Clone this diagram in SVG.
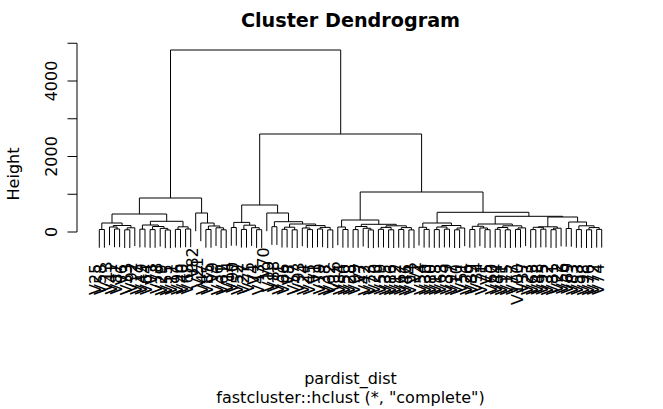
<svg xmlns="http://www.w3.org/2000/svg" width="663" height="409" viewBox="0 0 663 409">
<style>
text{font-family:"DejaVu Sans","Liberation Sans",sans-serif;fill:#000}
.lab{font-size:16px;text-anchor:end}
.ax{font-size:16px;text-anchor:middle}
.ln{fill:none;stroke:#000;stroke-width:1}
</style>
<rect width="663" height="409" fill="#fff"/>
<g id="title"><text x="350.5" y="27" font-size="19.2" font-weight="bold" text-anchor="middle">Cluster Dendrogram</text></g>
<g id="axis" class="ln">
<path d="M77 232V43.25M77 232H67.5M77 194.25H67.5M77 156.5H67.5M77 118.75H67.5M77 81H67.5M77 43.25H67.5"/>
</g>
<g id="axis-labels">
<text class="ax" transform="translate(57 232) rotate(-90)">0</text>
<text class="ax" transform="translate(57 156.5) rotate(-90)">2000</text>
<text class="ax" transform="translate(57 81) rotate(-90)">4000</text>
<text class="ax" transform="translate(18.5 174) rotate(-90)">Height</text>
</g>
<g id="xlab"><text class="ax" x="350.5" y="384">pardist_dist</text></g>
<g id="sub"><text class="ax" x="350.5" y="403">fastcluster::hclust (*, "complete")</text></g>
<g id="connectors" class="ln">
<path d="M99.3 247.7V229.5H104.4V247.7"/>
<path d="M114.5 247.2V229H119.6V247.2"/>
<path d="M109.5 245.2V227H117.1V229"/>
<path d="M124.7 248V229.8H129.8V248"/>
<path d="M127.2 229.8V227.8H134.8V246"/>
<path d="M113.3 227V225.5H131V227.8"/>
<path d="M101.8 229.5V223H122.1V225.5"/>
<path d="M139.9 247.4V229.2H145V247.4"/>
<path d="M150.1 247.8V229.6H155.1V247.8"/>
<path d="M165.3 248.2V230H170.4V248.2"/>
<path d="M160.2 246.6V228.4H167.8V230"/>
<path d="M152.6 229.6V226.5H164V228.4"/>
<path d="M142.4 229.2V225H158.3V226.5"/>
<path d="M175.4 247.6V229.4H180.5V247.6"/>
<path d="M185.6 247.2V229H190.7V247.2"/>
<path d="M178 229.4V226.8H188.1V229"/>
<path d="M150.4 225V221.3H183V226.8"/>
<path d="M112 223V214H166.7V221.3"/>
<path d="M205.9 247.7V229.5H211V247.7"/>
<path d="M221.1 248V229.8H226.2V248"/>
<path d="M216 246V227.8H223.6V229.8"/>
<path d="M208.4 229.5V226H219.8V227.8"/>
<path d="M200.8 241.2V223H214.1V226"/>
<path d="M195.7 231.2V213H207.5V223"/>
<path d="M139.4 214V198H201.6V213"/>
<path d="M231.3 245.7V227.5H236.3V245.7"/>
<path d="M241.4 247.6V229.4H246.5V247.6"/>
<path d="M256.6 247.9V229.7H261.7V247.9"/>
<path d="M251.6 245.9V227.7H259.2V229.7"/>
<path d="M243.9 229.4V225.2H255.4V227.7"/>
<path d="M233.8 227.5V222.4H249.7V225.2"/>
<path d="M271.9 244.9V226.7H276.9V244.9"/>
<path d="M282 247.5V229.3H287.1V247.5"/>
<path d="M292.2 248V229.8H297.2V248"/>
<path d="M284.5 229.3V227.2H294.7V229.8"/>
<path d="M307.4 247.8V229.6H312.5V247.8"/>
<path d="M302.3 246.2V228H309.9V229.6"/>
<path d="M317.5 247.2V229H322.6V247.2"/>
<path d="M327.7 248.1V229.9H332.8V248.1"/>
<path d="M320.1 229V227.4H330.2V229.9"/>
<path d="M306.1 228V225.6H325.1V227.4"/>
<path d="M289.6 227.2V224H315.6V225.6"/>
<path d="M274.4 226.7V221.7H302.6V224"/>
<path d="M266.8 231.2V213H288.5V221.7"/>
<path d="M241.7 222.4V205H277.6V213"/>
<path d="M342.9 247.7V229.5H348V247.7"/>
<path d="M337.8 245.2V227H345.4V229.5"/>
<path d="M353.1 247.8V229.6H358.1V247.8"/>
<path d="M368.3 248.1V229.9H373.4V248.1"/>
<path d="M363.2 246.5V228.3H370.8V229.9"/>
<path d="M355.6 229.6V226.5H367V228.3"/>
<path d="M378.4 247.5V229.3H383.5V247.5"/>
<path d="M388.6 248V229.8H393.7V248"/>
<path d="M381 229.3V227.4H391.1V229.8"/>
<path d="M398.7 247.7V229.5H403.8V247.7"/>
<path d="M408.9 248.1V229.9H414V248.1"/>
<path d="M401.3 229.5V227.6H411.4V229.9"/>
<path d="M386 227.4V225.8H406.3V227.6"/>
<path d="M361.3 226.5V224.3H396.2V225.8"/>
<path d="M341.6 227V220H378.8V224.3"/>
<path d="M424.1 247.6V229.4H429.2V247.6"/>
<path d="M419 245.5V227.3H426.6V229.4"/>
<path d="M434.3 247.8V229.6H439.3V247.8"/>
<path d="M444.4 247.4V229.2H449.5V247.4"/>
<path d="M436.8 229.6V227H446.9V229.2"/>
<path d="M454.6 248V229.8H459.6V248"/>
<path d="M457.1 229.8V228H464.7V246.2"/>
<path d="M441.9 227V225.5H460.9V228"/>
<path d="M422.8 227.3V223H451.4V225.5"/>
<path d="M469.8 247.7V229.5H474.9V247.7"/>
<path d="M485 247.9V229.7H490.1V247.9"/>
<path d="M479.9 246.2V228H487.5V229.7"/>
<path d="M472.3 229.5V226.3H483.7V228"/>
<path d="M495.2 247.5V229.3H500.2V247.5"/>
<path d="M505.3 248V229.8H510.4V248"/>
<path d="M497.7 229.3V227.5H507.8V229.8"/>
<path d="M515.5 247.6V229.4H520.5V247.6"/>
<path d="M518 229.4V227.9H525.6V246.1"/>
<path d="M502.8 227.5V225.8H521.8V227.9"/>
<path d="M478 226.3V224H512.3V225.8"/>
<path d="M530.7 247.8V229.6H535.8V247.8"/>
<path d="M540.8 247.4V229.2H545.9V247.4"/>
<path d="M533.2 229.6V227.3H543.4V229.2"/>
<path d="M551 247.9V229.7H556.1V247.9"/>
<path d="M553.5 229.7V228.2H561.1V246.4"/>
<path d="M538.3 227.3V226.8H557.3V228.2"/>
<path d="M566.2 246.7V228.5H571.3V246.7"/>
<path d="M576.4 247.8V229.6H581.4V247.8"/>
<path d="M586.5 248V229.8H591.6V248"/>
<path d="M596.7 247.6V229.4H601.7V247.6"/>
<path d="M589 229.8V227.6H599.2V229.4"/>
<path d="M578.9 229.6V225.8H594.1V227.6"/>
<path d="M568.7 228.5V222H586.5V225.8"/>
<path d="M547.8 226.8V217H577.6V222"/>
<path d="M495.2 224V216.3H562.7V217"/>
<path d="M437.1 223V212.3H528.9V216.3"/>
<path d="M360.2 220V192H483V212.3"/>
<path d="M259.7 205V134H421.6V192"/>
<path d="M170.5 198V50H340.7V134"/>
</g>
<g id="leaves">
<g id="leaf-V25"><text class="lab" transform="translate(101.3 263.7) rotate(-90)">V25</text></g>
<g id="leaf-V58"><text class="lab" transform="translate(106.4 263.7) rotate(-90)">V58</text></g>
<g id="leaf-V13"><text class="lab" transform="translate(111.5 261.2) rotate(-90)">V13</text></g>
<g id="leaf-V41"><text class="lab" transform="translate(116.5 263.2) rotate(-90)">V41</text></g>
<g id="leaf-V87"><text class="lab" transform="translate(121.6 263.2) rotate(-90)">V87</text></g>
<g id="leaf-V6"><text class="lab" transform="translate(126.7 264) rotate(-90)">V6</text></g>
<g id="leaf-V33"><text class="lab" transform="translate(131.8 264) rotate(-90)">V33</text></g>
<g id="leaf-V92"><text class="lab" transform="translate(136.8 262) rotate(-90)">V92</text></g>
<g id="leaf-V17"><text class="lab" transform="translate(141.9 263.4) rotate(-90)">V17</text></g>
<g id="leaf-V49"><text class="lab" transform="translate(147 263.4) rotate(-90)">V49</text></g>
<g id="leaf-V64"><text class="lab" transform="translate(152.1 263.8) rotate(-90)">V64</text></g>
<g id="leaf-V3"><text class="lab" transform="translate(157.1 263.8) rotate(-90)">V3</text></g>
<g id="leaf-V78"><text class="lab" transform="translate(162.2 262.6) rotate(-90)">V78</text></g>
<g id="leaf-V29"><text class="lab" transform="translate(167.3 264.2) rotate(-90)">V29</text></g>
<g id="leaf-V55"><text class="lab" transform="translate(172.4 264.2) rotate(-90)">V55</text></g>
<g id="leaf-V11"><text class="lab" transform="translate(177.4 263.6) rotate(-90)">V11</text></g>
<g id="leaf-V96"><text class="lab" transform="translate(182.5 263.6) rotate(-90)">V96</text></g>
<g id="leaf-V40"><text class="lab" transform="translate(187.6 263.2) rotate(-90)">V40</text></g>
<g id="leaf-V68"><text class="lab" transform="translate(192.7 263.2) rotate(-90)">V68</text></g>
<g id="leaf-V82"><text class="lab" transform="translate(197.7 247.2) rotate(-90)">V82</text></g>
<g id="leaf-V21"><text class="lab" transform="translate(202.8 257.2) rotate(-90)">V21</text></g>
<g id="leaf-V47"><text class="lab" transform="translate(207.9 263.7) rotate(-90)">V47</text></g>
<g id="leaf-V85"><text class="lab" transform="translate(213 263.7) rotate(-90)">V85</text></g>
<g id="leaf-V9"><text class="lab" transform="translate(218 262) rotate(-90)">V9</text></g>
<g id="leaf-V36"><text class="lab" transform="translate(223.1 264) rotate(-90)">V36</text></g>
<g id="leaf-V61"><text class="lab" transform="translate(228.2 264) rotate(-90)">V61</text></g>
<g id="leaf-V14"><text class="lab" transform="translate(233.3 261.7) rotate(-90)">V14</text></g>
<g id="leaf-V90"><text class="lab" transform="translate(238.3 261.7) rotate(-90)">V90</text></g>
<g id="leaf-V52"><text class="lab" transform="translate(243.4 263.6) rotate(-90)">V52</text></g>
<g id="leaf-V27"><text class="lab" transform="translate(248.5 263.6) rotate(-90)">V27</text></g>
<g id="leaf-V75"><text class="lab" transform="translate(253.6 261.9) rotate(-90)">V75</text></g>
<g id="leaf-V4"><text class="lab" transform="translate(258.6 263.9) rotate(-90)">V4</text></g>
<g id="leaf-V43"><text class="lab" transform="translate(263.7 263.9) rotate(-90)">V43</text></g>
<g id="leaf-V70"><text class="lab" transform="translate(268.8 247.2) rotate(-90)">V70</text></g>
<g id="leaf-V19"><text class="lab" transform="translate(273.9 260.9) rotate(-90)">V19</text></g>
<g id="leaf-V88"><text class="lab" transform="translate(278.9 260.9) rotate(-90)">V88</text></g>
<g id="leaf-V31"><text class="lab" transform="translate(284 263.5) rotate(-90)">V31</text></g>
<g id="leaf-V66"><text class="lab" transform="translate(289.1 263.5) rotate(-90)">V66</text></g>
<g id="leaf-V8"><text class="lab" transform="translate(294.2 264) rotate(-90)">V8</text></g>
<g id="leaf-V57"><text class="lab" transform="translate(299.2 264) rotate(-90)">V57</text></g>
<g id="leaf-V93"><text class="lab" transform="translate(304.3 262.2) rotate(-90)">V93</text></g>
<g id="leaf-V24"><text class="lab" transform="translate(309.4 263.8) rotate(-90)">V24</text></g>
<g id="leaf-V45"><text class="lab" transform="translate(314.5 263.8) rotate(-90)">V45</text></g>
<g id="leaf-V1"><text class="lab" transform="translate(319.5 263.2) rotate(-90)">V1</text></g>
<g id="leaf-V79"><text class="lab" transform="translate(324.6 263.2) rotate(-90)">V79</text></g>
<g id="leaf-V38"><text class="lab" transform="translate(329.7 264.1) rotate(-90)">V38</text></g>
<g id="leaf-V62"><text class="lab" transform="translate(334.8 264.1) rotate(-90)">V62</text></g>
<g id="leaf-V16"><text class="lab" transform="translate(339.8 261.2) rotate(-90)">V16</text></g>
<g id="leaf-V84"><text class="lab" transform="translate(344.9 263.7) rotate(-90)">V84</text></g>
<g id="leaf-V50"><text class="lab" transform="translate(350 263.7) rotate(-90)">V50</text></g>
<g id="leaf-V28"><text class="lab" transform="translate(355.1 263.8) rotate(-90)">V28</text></g>
<g id="leaf-V99"><text class="lab" transform="translate(360.1 263.8) rotate(-90)">V99</text></g>
<g id="leaf-V7"><text class="lab" transform="translate(365.2 262.5) rotate(-90)">V7</text></g>
<g id="leaf-V42"><text class="lab" transform="translate(370.3 264.1) rotate(-90)">V42</text></g>
<g id="leaf-V73"><text class="lab" transform="translate(375.4 264.1) rotate(-90)">V73</text></g>
<g id="leaf-V20"><text class="lab" transform="translate(380.4 263.5) rotate(-90)">V20</text></g>
<g id="leaf-V59"><text class="lab" transform="translate(385.5 263.5) rotate(-90)">V59</text></g>
<g id="leaf-V35"><text class="lab" transform="translate(390.6 264) rotate(-90)">V35</text></g>
<g id="leaf-V86"><text class="lab" transform="translate(395.7 264) rotate(-90)">V86</text></g>
<g id="leaf-V12"><text class="lab" transform="translate(400.7 263.7) rotate(-90)">V12</text></g>
<g id="leaf-V67"><text class="lab" transform="translate(405.8 263.7) rotate(-90)">V67</text></g>
<g id="leaf-V46"><text class="lab" transform="translate(410.9 264.1) rotate(-90)">V46</text></g>
<g id="leaf-V94"><text class="lab" transform="translate(416 264.1) rotate(-90)">V94</text></g>
<g id="leaf-V2"><text class="lab" transform="translate(421 261.5) rotate(-90)">V2</text></g>
<g id="leaf-V54"><text class="lab" transform="translate(426.1 263.6) rotate(-90)">V54</text></g>
<g id="leaf-V30"><text class="lab" transform="translate(431.2 263.6) rotate(-90)">V30</text></g>
<g id="leaf-V80"><text class="lab" transform="translate(436.3 263.8) rotate(-90)">V80</text></g>
<g id="leaf-V18"><text class="lab" transform="translate(441.3 263.8) rotate(-90)">V18</text></g>
<g id="leaf-V63"><text class="lab" transform="translate(446.4 263.4) rotate(-90)">V63</text></g>
<g id="leaf-V39"><text class="lab" transform="translate(451.5 263.4) rotate(-90)">V39</text></g>
<g id="leaf-V97"><text class="lab" transform="translate(456.6 264) rotate(-90)">V97</text></g>
<g id="leaf-V10"><text class="lab" transform="translate(461.6 264) rotate(-90)">V10</text></g>
<g id="leaf-V51"><text class="lab" transform="translate(466.7 262.2) rotate(-90)">V51</text></g>
<g id="leaf-V26"><text class="lab" transform="translate(471.8 263.7) rotate(-90)">V26</text></g>
<g id="leaf-V89"><text class="lab" transform="translate(476.9 263.7) rotate(-90)">V89</text></g>
<g id="leaf-V34"><text class="lab" transform="translate(481.9 262.2) rotate(-90)">V34</text></g>
<g id="leaf-V71"><text class="lab" transform="translate(487 263.9) rotate(-90)">V71</text></g>
<g id="leaf-V5"><text class="lab" transform="translate(492.1 263.9) rotate(-90)">V5</text></g>
<g id="leaf-V60"><text class="lab" transform="translate(497.2 263.5) rotate(-90)">V60</text></g>
<g id="leaf-V44"><text class="lab" transform="translate(502.2 263.5) rotate(-90)">V44</text></g>
<g id="leaf-V91"><text class="lab" transform="translate(507.3 264) rotate(-90)">V91</text></g>
<g id="leaf-V15"><text class="lab" transform="translate(512.4 264) rotate(-90)">V15</text></g>
<g id="leaf-V77"><text class="lab" transform="translate(517.5 263.6) rotate(-90)">V77</text></g>
<g id="leaf-V100"><text class="lab" transform="translate(522.5 263.6) rotate(-90)">V100</text></g>
<g id="leaf-V37"><text class="lab" transform="translate(527.6 262.1) rotate(-90)">V37</text></g>
<g id="leaf-V23"><text class="lab" transform="translate(532.7 263.8) rotate(-90)">V23</text></g>
<g id="leaf-V65"><text class="lab" transform="translate(537.8 263.8) rotate(-90)">V65</text></g>
<g id="leaf-V48"><text class="lab" transform="translate(542.8 263.4) rotate(-90)">V48</text></g>
<g id="leaf-V95"><text class="lab" transform="translate(547.9 263.4) rotate(-90)">V95</text></g>
<g id="leaf-V32"><text class="lab" transform="translate(553 263.9) rotate(-90)">V32</text></g>
<g id="leaf-V81"><text class="lab" transform="translate(558.1 263.9) rotate(-90)">V81</text></g>
<g id="leaf-V22"><text class="lab" transform="translate(563.1 262.4) rotate(-90)">V22</text></g>
<g id="leaf-V56"><text class="lab" transform="translate(568.2 262.7) rotate(-90)">V56</text></g>
<g id="leaf-V69"><text class="lab" transform="translate(573.3 262.7) rotate(-90)">V69</text></g>
<g id="leaf-V83"><text class="lab" transform="translate(578.4 263.8) rotate(-90)">V83</text></g>
<g id="leaf-V53"><text class="lab" transform="translate(583.4 263.8) rotate(-90)">V53</text></g>
<g id="leaf-V98"><text class="lab" transform="translate(588.5 264) rotate(-90)">V98</text></g>
<g id="leaf-V76"><text class="lab" transform="translate(593.6 264) rotate(-90)">V76</text></g>
<g id="leaf-V72"><text class="lab" transform="translate(598.7 263.6) rotate(-90)">V72</text></g>
<g id="leaf-V74"><text class="lab" transform="translate(603.7 263.6) rotate(-90)">V74</text></g>
</g>
</svg>
